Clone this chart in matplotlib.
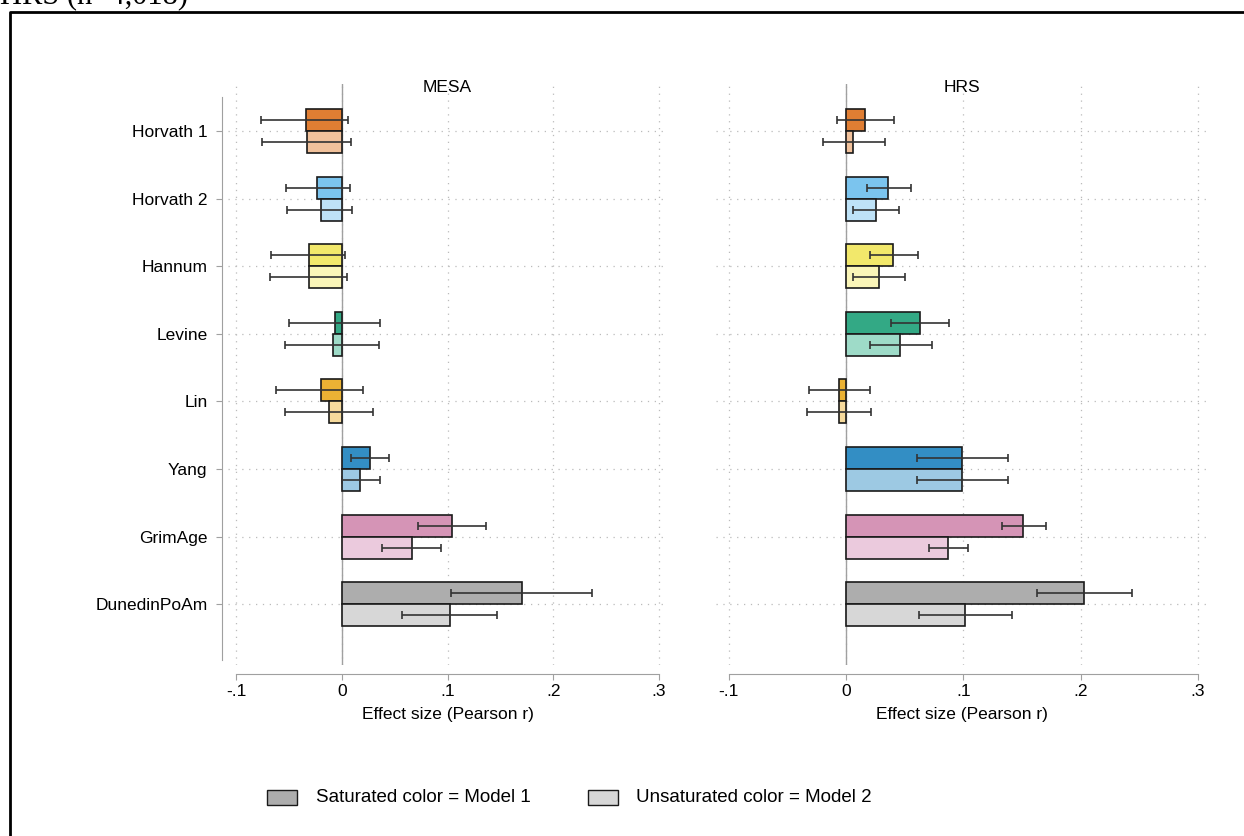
import numpy as np
import matplotlib.pyplot as plt
from matplotlib.patches import Rectangle
from matplotlib.lines import Line2D

plt.rcParams['font.family'] = ['Liberation Sans', 'DejaVu Sans']

clocks = ['Horvath 1', 'Horvath 2', 'Hannum', 'Levine', 'Lin', 'Yang', 'GrimAge', 'DunedinPoAm']
sat_cols = ['#E07E33', '#7BC4EE', '#F2E86B', '#33A985', '#EBB234', '#338EC4', '#D594B6', '#ADADAD']
uns_cols = ['#F1C19B', '#BEE2F7', '#FAF5B8', '#9EDBC8', '#F6DA9C', '#9DC9E3', '#EBCADD', '#D7D7D7']

# MESA, model 1 (saturated) and model 2 (unsaturated)
mesa_m1 = [-0.034, -0.023, -0.031, -0.006, -0.020, 0.027, 0.104, 0.170]
mesa_m1_lo = [-0.076, -0.053, -0.067, -0.050, -0.062, 0.009, 0.072, 0.103]
mesa_m1_hi = [0.006, 0.008, 0.003, 0.036, 0.020, 0.045, 0.136, 0.237]
mesa_m2 = [-0.033, -0.020, -0.031, -0.008, -0.012, 0.017, 0.066, 0.102]
mesa_m2_lo = [-0.075, -0.052, -0.068, -0.054, -0.054, 0.000, 0.038, 0.057]
mesa_m2_hi = [0.009, 0.010, 0.005, 0.035, 0.030, 0.036, 0.094, 0.147]

# HRS
hrs_m1 = [0.016, 0.036, 0.040, 0.063, -0.006, 0.099, 0.151, 0.203]
hrs_m1_lo = [-0.008, 0.018, 0.020, 0.038, -0.032, 0.060, 0.133, 0.163]
hrs_m1_hi = [0.041, 0.055, 0.061, 0.088, 0.020, 0.138, 0.170, 0.244]
hrs_m2 = [0.006, 0.025, 0.028, 0.046, -0.006, 0.099, 0.087, 0.101]
hrs_m2_lo = [-0.020, 0.006, 0.006, 0.020, -0.033, 0.060, 0.071, 0.062]
hrs_m2_hi = [0.033, 0.045, 0.050, 0.073, 0.021, 0.138, 0.104, 0.141]

xticks = [-0.1, 0, 0.1, 0.2, 0.3]
xticklabels = ['-.1', '0', '.1', '.2', '.3']

W, H = 1244, 836
fig = plt.figure(figsize=(W / 100, H / 100), dpi=100)

def px(x0, y0, x1, y1):
    return [x0 / W, 1 - y1 / H, (x1 - x0) / W, (y1 - y0) / H]

ax1 = fig.add_axes(px(228, 84, 667, 665))
ax2 = fig.add_axes(px(716, 84, 1208, 665))

grey = '#A0A0A0'
fs = 12.5
fs_leg = 13.5
bh = 0.326
y = np.arange(len(clocks))

def panel(ax, m1, lo1, hi1, m2, lo2, hi2, xl, show_y):
    ax.set_xlim(*xl)
    ax.set_ylim(7.90, -0.696)
    for t in xticks:
        ax.axvline(t, color='#BBBBBB', lw=0.9, ls=(0, (1, 4.5)), zorder=0)
    for yy in y:
        ax.axhline(yy, color='#BBBBBB', lw=0.9, ls=(0, (1, 4.5)), zorder=0)
    ax.axvline(0, color=grey, lw=1.0, zorder=1)
    m1 = np.array(m1); m2 = np.array(m2)
    ax.barh(y - bh / 2, m1, height=bh, color=sat_cols, edgecolor='#1a1a1a', lw=1.2, zorder=2)
    ax.barh(y + bh / 2, m2, height=bh, color=uns_cols, edgecolor='#1a1a1a', lw=1.2, zorder=2)
    ax.errorbar(m1, y - bh / 2, xerr=[m1 - np.array(lo1), np.array(hi1) - m1], fmt='none',
                ecolor='#333333', elinewidth=1.2, capsize=3, capthick=1.2, zorder=3)
    ax.errorbar(m2, y + bh / 2, xerr=[m2 - np.array(lo2), np.array(hi2) - m2], fmt='none',
                ecolor='#333333', elinewidth=1.2, capsize=3, capthick=1.2, zorder=3)
    ax.spines['top'].set_visible(False)
    ax.spines['right'].set_visible(False)
    ax.spines['bottom'].set_position(('outward', 6.5))
    ax.spines['bottom'].set_bounds(-0.1, 0.3)
    ax.spines['bottom'].set_color(grey)
    ax.set_xticks(xticks)
    ax.set_xticklabels(xticklabels)
    ax.tick_params(axis='x', direction='out', length=4.5, color=grey, pad=2.5, labelsize=fs)
    ax.set_xlabel('Effect size (Pearson r)', fontsize=fs, labelpad=6)
    if show_y:
        ax.spines['left'].set_position(('outward', 4.3))
        ax.spines['left'].set_bounds(-0.5, 7.83)
        ax.spines['left'].set_color(grey)
        ax.set_yticks(y)
        ax.set_yticklabels(clocks)
        ax.tick_params(axis='y', direction='out', length=4.5, color=grey, pad=6, labelsize=fs)
    else:
        ax.spines['left'].set_visible(False)
        ax.set_yticks([])

panel(ax1, mesa_m1, mesa_m1_lo, mesa_m1_hi, mesa_m2, mesa_m2_lo, mesa_m2_hi,
      (-0.1076, 0.3076), True)
panel(ax2, hrs_m1, hrs_m1_lo, hrs_m1_hi, hrs_m2, hrs_m2_lo, hrs_m2_hi,
      (-0.111, 0.3085), False)

fig.text(447.5 / W, 1 - 87 / H, 'MESA', fontsize=fs, ha='center', va='center')
fig.text(962 / W, 1 - 87 / H, 'HRS', fontsize=fs, ha='center', va='center')

# legend
fig.patches.append(Rectangle((267 / W, 1 - 805 / H), 30 / W, 15 / H, transform=fig.transFigure,
                             facecolor='#ADADAD', edgecolor='#1a1a1a', lw=1.0))
fig.text(316 / W, 1 - 798 / H, 'Saturated color = Model 1', fontsize=fs_leg, va='center')
fig.patches.append(Rectangle((588 / W, 1 - 805 / H), 30 / W, 15 / H, transform=fig.transFigure,
                             facecolor='#D7D7D7', edgecolor='#1a1a1a', lw=1.0))
fig.text(636 / W, 1 - 798 / H, 'Unsaturated color = Model 2', fontsize=fs_leg, va='center')

# outer frame and clipped heading
fig.lines.append(Line2D([10 / W, 10 / W, 1.0], [0, 1 - 12 / H, 1 - 12 / H], transform=fig.transFigure,
                        color='black', lw=2))
fig.text(0.0, 1 - 3 / H, 'HRS (n=4,018)', fontsize=22, family='Liberation Serif', va='baseline')

fig.savefig('out.png', dpi=100)
